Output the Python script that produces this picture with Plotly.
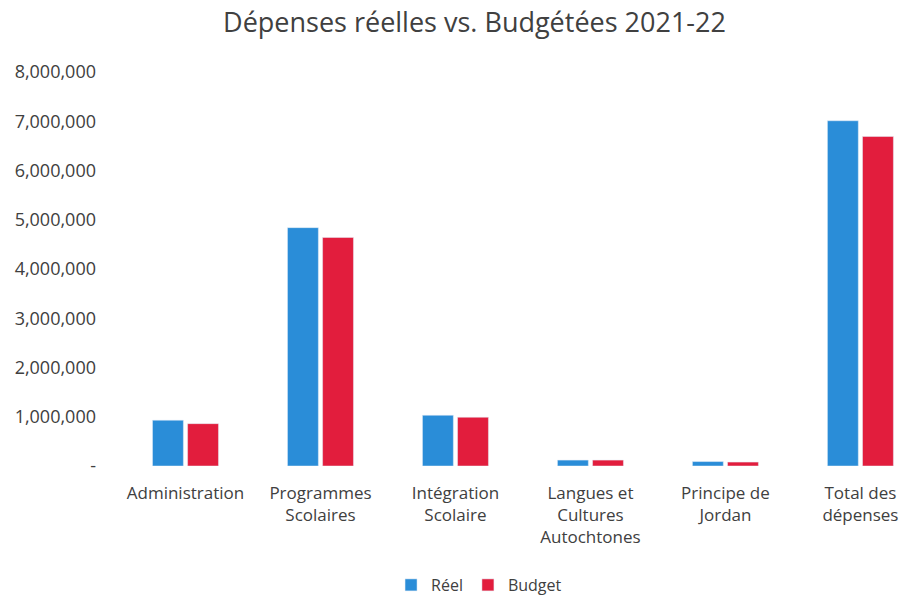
import plotly.graph_objects as go

categories = [
    "Administration",
    "Programmes<br>Scolaires",
    "Intégration<br>Scolaire",
    "Langues et<br>Cultures<br>Autochtones",
    "Principe de<br>Jordan",
    "Total des<br>dépenses",
]
reel = [930000, 4840000, 1030000, 120000, 90000, 7010000]
budget = [860000, 4640000, 990000, 120000, 80000, 6690000]

y_tickvals = [0, 1000000, 2000000, 3000000, 4000000, 5000000, 6000000, 7000000, 8000000]
y_ticktext = ["-", "1,000,000", "2,000,000", "3,000,000", "4,000,000",
              "5,000,000", "6,000,000", "7,000,000", "8,000,000"]

BLUE = "#2A8DD8"
RED = "#E21D3D"
FONT = "Open Sans, Liberation Sans, sans-serif"

x_idx = list(range(len(categories)))

fig = go.Figure()
fig.add_trace(go.Bar(name="Réel", x=x_idx, y=reel, marker_color=BLUE))
fig.add_trace(go.Bar(name="Budget", x=x_idx, y=budget, marker_color=RED))

fig.update_layout(
    width=909, height=597,
    margin=dict(l=118, r=0, t=72, b=131),
    paper_bgcolor="white", plot_bgcolor="white",
    barmode="group", bargap=0.48, bargroupgap=0.12,
    font=dict(family=FONT, color="#404040"),
    title=dict(text="Dépenses réelles vs. Budgétées 2021-22",
               x=0.522, xanchor="center", xref="container",
               y=1 - 23 / 597, yanchor="middle", yref="container",
               font=dict(size=27, color="#404040", family=FONT)),
    legend=dict(orientation="h", x=0.527, xanchor="center",
                xref="container", yref="container",
                y=1 - 585 / 597, yanchor="middle",
                font=dict(size=16, color="#404040"),
                itemwidth=30, tracegroupgap=0),
    showlegend=True,
)
fig.update_xaxes(
    tickvals=x_idx, ticktext=categories,
    range=[-0.5, 5.36],
    showgrid=False, zeroline=False, showline=False, ticks="",
    tickfont=dict(size=17, color="#404040"),
    ticklabelstandoff=15, automargin=False,
)
fig.update_yaxes(
    range=[0, 8000000],
    tickvals=y_tickvals, ticktext=y_ticktext,
    showgrid=False, zeroline=False, showline=False, ticks="",
    tickfont=dict(size=18, color="#404040"),
    ticklabelstandoff=21, automargin=False,
)

fig.write_html("out.html")
